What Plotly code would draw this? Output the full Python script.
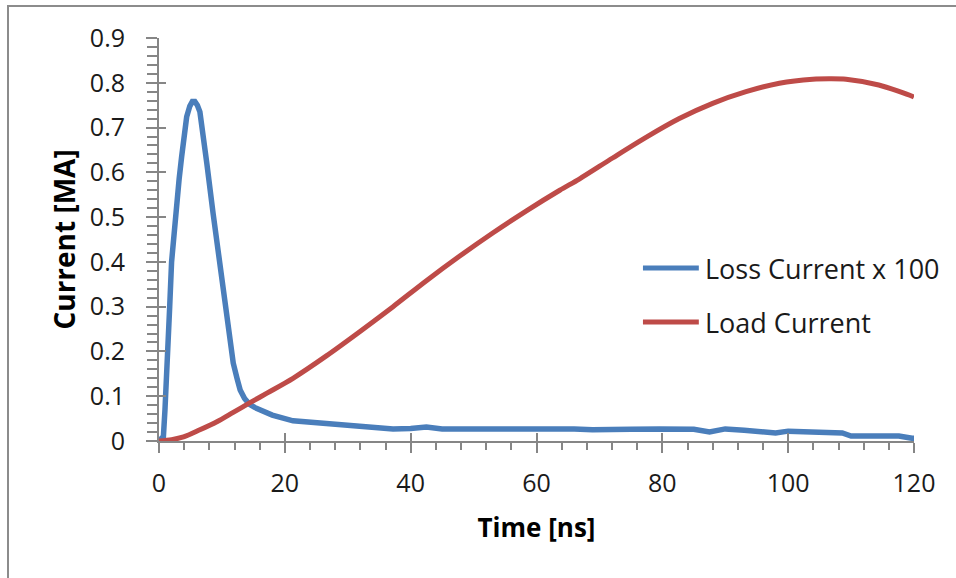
import plotly.graph_objects as go

# Time axis in ns, currents in MA
loss_t = [0, 0.7, 0.95, 1.15, 1.5, 1.7, 2.0, 2.4, 2.8, 3.2, 3.6, 4.0, 4.4, 4.9, 5.3,
          5.7, 6.1, 6.5, 7.0, 7.6, 8.6, 9.7, 10.7, 11.8, 12.4, 12.9, 13.6, 14.4,
          15.2, 16.0, 18.0, 21.3, 24.0, 26.6, 29.0, 31.9, 34.5, 37.2, 40.0, 42.5,
          45.0, 47.8, 50.0, 53.0, 56.0, 58.4, 61.0, 63.7, 66.0, 68.9, 72.0, 75.0,
          79.5, 82.0, 85.0, 87.5, 90.0, 93.0, 96.0, 98.0, 100.0, 103.0, 106.0,
          108.6, 110.0, 114.0, 117.6, 119.7, 120.0]
loss_x100 = [0, 0.01, 0.07, 0.15, 0.24, 0.30, 0.40, 0.47, 0.53, 0.585, 0.635, 0.685,
             0.724, 0.748, 0.758, 0.758, 0.75, 0.735, 0.69, 0.62, 0.508, 0.389, 0.27,
             0.174, 0.14, 0.114, 0.095, 0.082, 0.075, 0.070, 0.058, 0.045, 0.042,
             0.040, 0.036, 0.032, 0.030, 0.027, 0.028, 0.031, 0.027, 0.027, 0.030,
             0.030, 0.028, 0.027, 0.027, 0.028, 0.027, 0.025, 0.027, 0.026, 0.027,
             0.027, 0.026, 0.020, 0.027, 0.024, 0.022, 0.018, 0.022, 0.020, 0.018,
             0.018, 0.011, 0.011, 0.011, 0.006, 0.006]

load_t = [0, 2.0, 3.9, 6.5, 9.2, 11.8, 14.4, 17.3, 21.3, 26.6, 31.9, 37.2, 42.5,
          47.8, 53.1, 58.4, 63.7, 66.8, 72.1, 77.4, 82.7, 88.0, 93.3, 98.6, 103.9,
          106.5, 109.2, 114.4, 119.7, 120.0]
load_current = [0, 0.003, 0.009, 0.025, 0.043, 0.064, 0.085, 0.108, 0.14, 0.19,
                0.244, 0.30, 0.358, 0.413, 0.465, 0.514, 0.56, 0.585, 0.632, 0.678,
                0.72, 0.754, 0.78, 0.799, 0.808, 0.809, 0.808, 0.795, 0.77, 0.768]

x_ticks = [0, 20, 40, 60, 80, 100, 120]
y_ticks = [0, 0.1, 0.2, 0.3, 0.4, 0.5, 0.6, 0.7, 0.8, 0.9]
y_tick_text = ["0", "0.1", "0.2", "0.3", "0.4", "0.5", "0.6", "0.7", "0.8", "0.9"]

BLUE = "#4a7ebb"
RED = "#be4b48"
AXIS = "#868686"
TEXT = "#1a1a1a"
FONT = "Open Sans"

fig = go.Figure()
fig.add_trace(go.Scatter(x=loss_t, y=loss_x100, mode="lines", name="Loss Current x 100",
                         line=dict(color=BLUE, width=5.5), showlegend=False))
fig.add_trace(go.Scatter(x=load_t, y=load_current, mode="lines", name="Load Current",
                         line=dict(color=RED, width=5, shape="spline", smoothing=0.8),
                         showlegend=False))
# invisible trace on the overlay axes so they are drawn
fig.add_trace(go.Scatter(x=[None], y=[None], xaxis="x2", yaxis="y2", showlegend=False,
                         hoverinfo="skip"))

fig.update_layout(
    width=956, height=578,
    margin=dict(l=159, r=42, t=38, b=137),
    plot_bgcolor="white", paper_bgcolor="white",
    font=dict(family=FONT, size=25, color=TEXT),
    xaxis=dict(range=[0, 120], tickvals=x_ticks, ticks="outside", ticklen=10,
               tickwidth=2, tickcolor=AXIS, showline=True, linecolor=AXIS, linewidth=2,
               showgrid=False, zeroline=False, ticklabelstandoff=9,
               minor=dict(dtick=4, ticks="outside", ticklen=7, tickwidth=2, tickcolor=AXIS),
               title=dict(text="<b>Time [ns]</b>", font=dict(size=26, color="#000"),
                          standoff=21)),
    yaxis=dict(range=[0, 0.9], tickvals=y_ticks, ticktext=y_tick_text, ticks="outside",
               ticklen=11, tickwidth=2, tickcolor=AXIS, showline=True, linecolor=AXIS,
               linewidth=2, showgrid=False, zeroline=False, ticklabelstandoff=16,
               minor=dict(dtick=0.02, ticks="outside", ticklen=10, tickwidth=2,
                          tickcolor=AXIS)),
    xaxis2=dict(range=[0, 120], tickvals=x_ticks, overlaying="x", ticks="inside",
                ticklen=8, tickwidth=2, tickcolor=AXIS, showticklabels=False,
                showline=False, showgrid=False, zeroline=False),
    yaxis2=dict(range=[0, 0.9], tickvals=y_ticks, overlaying="y", ticks="inside",
                ticklen=7, tickwidth=2, tickcolor=AXIS, showticklabels=False,
                showline=False, showgrid=False, zeroline=False),
)

# y-axis title
fig.add_annotation(xref="paper", yref="paper", x=-0.127, y=0.5, text="<b>Current [MA]</b>",
                   textangle=-90, showarrow=False, xanchor="center", yanchor="middle",
                   font=dict(family=FONT, size=28, color="#000"))

# chart frame
fig.add_shape(type="rect", xref="paper", yref="paper", x0=-0.2, x1=1.3, y0=-0.6,
              y1=1.0794, line=dict(color="#8c8c8c", width=2), layer="below")

# legend entries
legend_rows = [("Loss Current x 100", BLUE, 0.429), ("Load Current", RED, 0.295)]
for label, color, ypos in legend_rows:
    fig.add_shape(type="line", xref="paper", yref="paper", x0=0.641, x1=0.715,
                  y0=ypos, y1=ypos, line=dict(color=color, width=5))
    fig.add_annotation(xref="paper", yref="paper", x=0.7205, y=ypos, text=label,
                       showarrow=False, xanchor="left", yanchor="middle",
                       font=dict(family=FONT, size=27, color=TEXT))

fig.write_html("out.html")
